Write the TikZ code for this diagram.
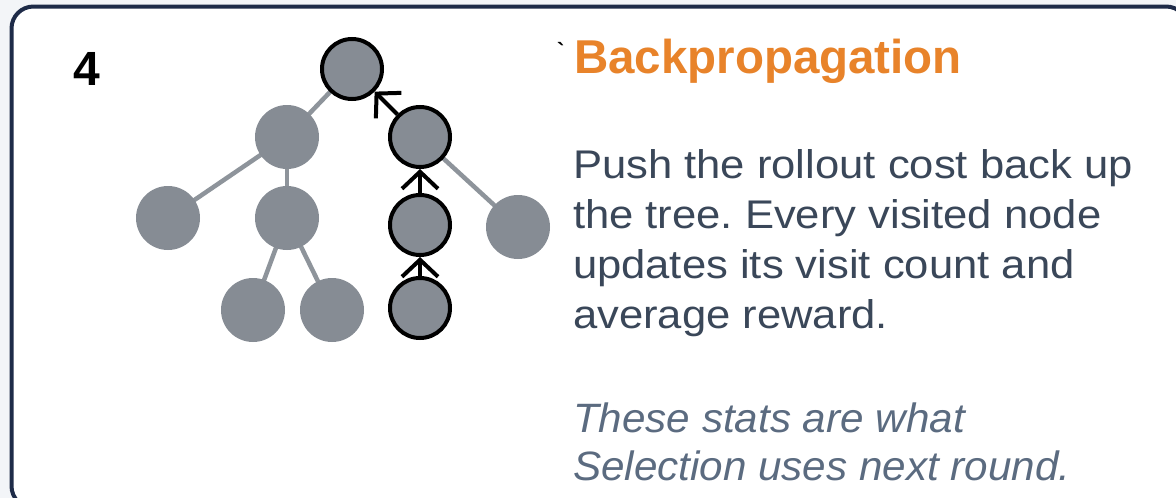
\documentclass[tikz,border=0pt]{standalone}
\usepackage{fontspec}
\setmainfont{Liberation Sans}
\newfontfamily\bodyfont[FakeStretch=1.09]{Liberation Sans}
\newfontfamily\notefont[FakeStretch=1.03]{Liberation Sans}
\usetikzlibrary{arrows.meta}

\definecolor{pagebg}{HTML}{F3F5F8}
\definecolor{cardedge}{HTML}{1E2B48}
\definecolor{nodegray}{HTML}{868C94}
\definecolor{edgegray}{HTML}{8E949B}
\definecolor{titleorange}{HTML}{E8832A}
\definecolor{bodyink}{HTML}{3A4759}
\definecolor{noteink}{HTML}{5B6B80}

\pgfdeclarelayer{back}
\pgfdeclarelayer{edges}
\pgfsetlayers{back,edges,main}

\tikzset{
  leaf/.style={circle, fill=nodegray, minimum size=64pt, inner sep=0pt},
  onpath/.style={circle, fill=nodegray, draw=black, line width=4pt, minimum size=60pt, inner sep=0pt},
  treeedge/.style={draw=edgegray, line width=4.5pt},
  backarrow/.style={draw=black, line width=4pt, -{Straight Barb[length=17pt, width=36pt]}},
  txt/.style={anchor=base west, inner sep=0pt, outer sep=0pt},
  bodyline/.style={txt, text=bodyink, font=\bodyfont\fontsize{40}{50}\selectfont},
  noteline/.style={txt, text=noteink, font=\notefont\itshape\fontsize{41}{50}\selectfont},
}

\frenchspacing
\begin{document}
\begin{tikzpicture}[x=1pt, y=-1pt]
\useasboundingbox (0,0) rectangle (1176,498);

% page and card
\begin{pgfonlayer}{back}
  \fill[pagebg] (0,0) rectangle (1176,498);
  \draw[cardedge, line width=4pt, fill=white, rounded corners=22pt] (11.5,6.5) rectangle (1188,508);
\end{pgfonlayer}

% step number
\node[txt, font=\bfseries\fontsize{48}{48}\selectfont] (stepnum) at (73,85) {4};

% tree
\node[onpath] (root) at (352,69) {};
\node[leaf]   (a)    at (287,137) {};
\node[onpath] (b)    at (420,137) {};
\node[leaf]   (ll)   at (168,218) {};
\node[leaf]   (am)   at (287,218) {};
\node[onpath] (c)    at (420,225) {};
\node[leaf]   (d)    at (518,227) {};
\node[leaf]   (aml)  at (253,310) {};
\node[leaf]   (amr)  at (332,310) {};
\node[onpath] (e)    at (420,308) {};

\begin{pgfonlayer}{edges}
  \draw[treeedge] (root.center) -- (a.center);
  \draw[treeedge] (a.center) -- (ll.center);
  \draw[treeedge] (a.center) -- (am.center);
  \draw[treeedge] (am.center) -- (aml.center);
  \draw[treeedge] (am.center) -- (amr.center);
  \draw[treeedge] (b.center) -- (d.center);
\end{pgfonlayer}

% backed-up path
\draw[backarrow] (e) -- (c);
\draw[backarrow] (c) -- (b);
\draw[backarrow] (b) -- (root);

% heading
\node[txt, font=\bfseries\fontsize{22}{22}\selectfont] (tick) at (557,58) {\textasciigrave};
\node[txt, text=titleorange, font=\bfseries\fontsize{47.5}{47.5}\selectfont] (title) at (574,73) {Backpropagation};

% description
\node[bodyline] (body1) at (573,178) {Push the rollout cost back up};
\node[bodyline] (body2) at (573,228) {the tree. Every visited node};
\node[bodyline] (body3) at (573,278) {updates its visit count and};
\node[bodyline] (body4) at (573,328) {average reward.};

% note
\node[noteline] (note1) at (573,432) {These stats are what};
\node[noteline] (note2) at (573,480) {Selection uses next round.};
\end{tikzpicture}
\end{document}
